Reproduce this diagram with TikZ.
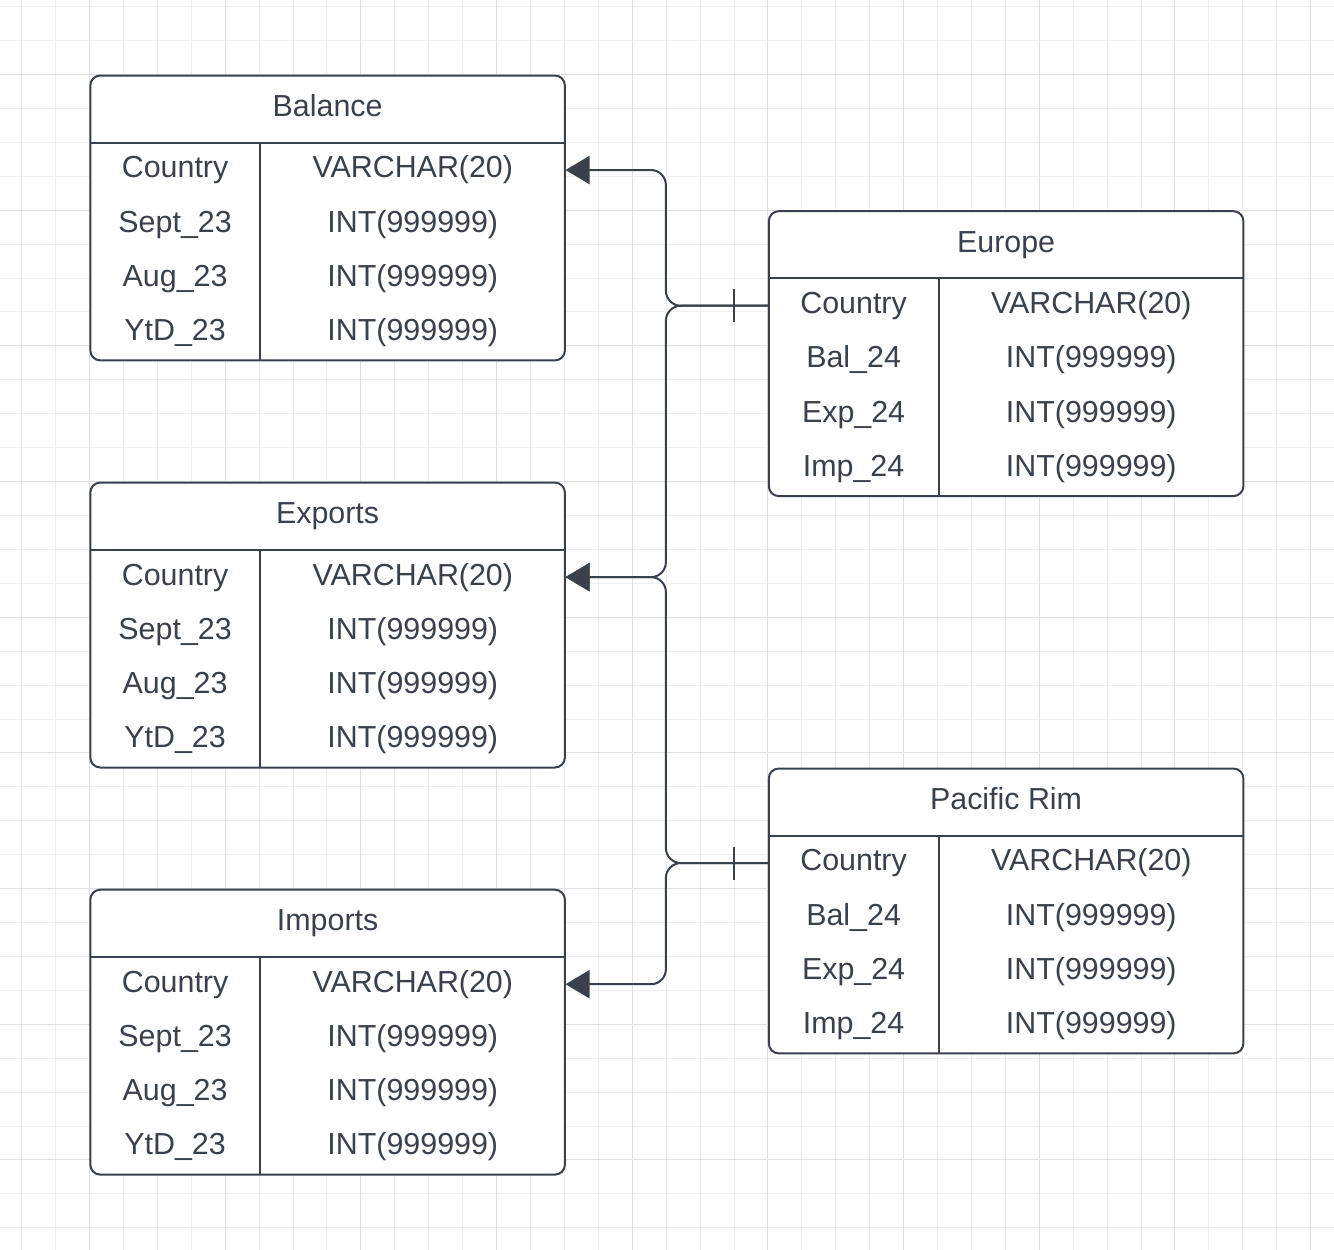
\documentclass[tikz,border=0pt]{standalone}
\usepackage{fontspec}
\setmainfont{Liberation Sans}
\usepackage{tikz}
\usetikzlibrary{arrows.meta,positioning,calc}

\definecolor{ink}{HTML}{3A414A}
\definecolor{gridminor}{HTML}{EFEFEF}
\definecolor{gridmajor}{HTML}{E0E0E0}

\tikzset{
	tablebox/.style={draw=ink, fill=white, line width=2pt, rounded corners=10pt,
		minimum width=474.6pt, minimum height=284.9pt, anchor=north west, inner sep=0pt},
	cell/.style={inner sep=0pt, text=ink, font=\fontsize{30.4}{36}\selectfont,
		text height=21.8pt, text depth=6pt, minimum height=54.27pt},
	tabletitle/.style={cell, minimum width=474.6pt, minimum height=67.8pt, anchor=north},
	fieldcell/.style={cell, minimum width=169.6pt, anchor=north west},
	typecell/.style={cell, minimum width=305pt},
	rule/.style={draw=ink, line width=2pt},
	rel/.style={rule, rounded corners=15pt, -{Triangle[length=24pt,width=28pt]}}
}

% one table: name, title, top left corner, field/type rows
\newcommand{\ertable}[4]{%
	\node[tablebox] (#1) at #3 {};
	\node[tabletitle] (#1-h) at (#1.north) {#2};
	\draw[rule] (#1-h.south west) -- (#1-h.south east);
	\foreach \f/\t [count=\i] in {#4} {
		\node[fieldcell] (#1-f\i) at ([yshift={-(\i-1)*54.27pt}]#1-h.south west) {\f};
		\node[typecell, right=0pt of #1-f\i] (#1-t\i) {\t};
	}
	\draw[rule] (#1-t1.north west) -- (#1-t4.south west);
}

\begin{document}
\begin{tikzpicture}[x=1pt, y=-1pt]
	\useasboundingbox (0,0) rectangle (1334,1250);
	\fill[white] (0,0) rectangle (1334,1250);
	% background grid
	\foreach \i in {0,...,38}
		\draw[gridminor, line width=1pt] ({21.7+33.92*\i},0) -- ++(0,1250);
	\foreach \j in {0,...,36}
		\draw[gridminor, line width=1pt] (0,{6.7+33.92*\j}) -- ++(1334,0);
	\foreach \i in {2,6,...,38}
		\draw[gridmajor, line width=1pt] ({21.7+33.92*\i},0) -- ++(0,1250);
	\foreach \j in {2,6,...,34}
		\draw[gridmajor, line width=1pt] (0,{6.7+33.92*\j}) -- ++(1334,0);

	\ertable{bal}{Balance}{(89.3,74.5)}{Country/VARCHAR(20), Sept\_23/INT(999999), Aug\_23/INT(999999), YtD\_23/INT(999999)}
	\ertable{exp}{Exports}{(89.3,481.6)}{Country/VARCHAR(20), Sept\_23/INT(999999), Aug\_23/INT(999999), YtD\_23/INT(999999)}
	\ertable{imp}{Imports}{(89.3,888.7)}{Country/VARCHAR(20), Sept\_23/INT(999999), Aug\_23/INT(999999), YtD\_23/INT(999999)}
	\ertable{eu}{Europe}{(767.8,210.2)}{Country/VARCHAR(20), Bal\_24/INT(999999), Exp\_24/INT(999999), Imp\_24/INT(999999)}
	\ertable{pac}{Pacific Rim}{(767.8,767.5)}{Country/VARCHAR(20), Bal\_24/INT(999999), Exp\_24/INT(999999), Imp\_24/INT(999999)}

	\coordinate (bus) at (665.9,0);
	\draw[rel] (eu-f1.west) -- (eu-f1.west -| bus) |- (bal-t1.east);
	\draw[rel] (eu-f1.west) -- (eu-f1.west -| bus) |- (exp-t1.east);
	\draw[rel] (pac-f1.west) -- (pac-f1.west -| bus) |- (exp-t1.east);
	\draw[rel] (pac-f1.west) -- (pac-f1.west -| bus) |- (imp-t1.east);
	% one-side bars
	\draw[rule] ([xshift=-34.8pt,yshift=16.5pt]eu-f1.west) -- ([xshift=-34.8pt,yshift=-16.5pt]eu-f1.west);
	\draw[rule] ([xshift=-34.8pt,yshift=16.5pt]pac-f1.west) -- ([xshift=-34.8pt,yshift=-16.5pt]pac-f1.west);
\end{tikzpicture}
\end{document}
